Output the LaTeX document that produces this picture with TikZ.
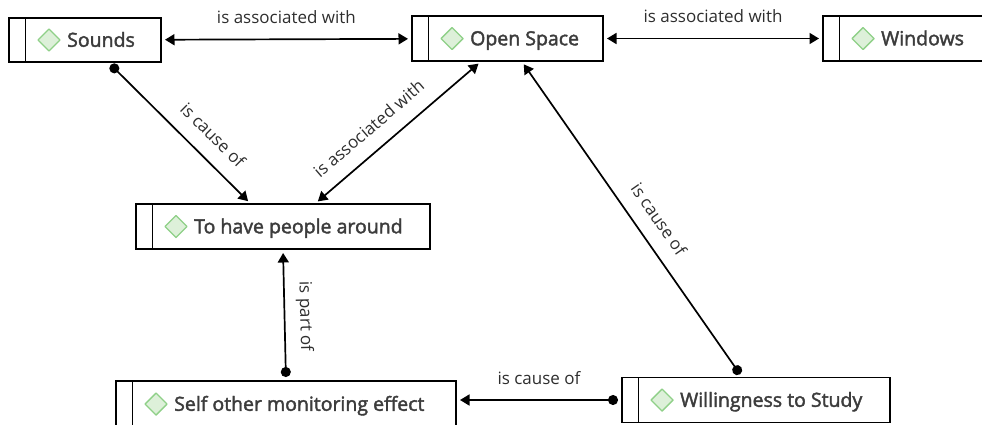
\documentclass[tikz,border=0pt]{standalone}
\usepackage{fontspec}
\setmainfont{Open Sans}
\newfontfamily\boxfontfam[FakeBold=2]{Open Sans}
\usetikzlibrary{arrows.meta,calc}
\definecolor{boxtext}{HTML}{3C3C3C}
\definecolor{lbltext}{HTML}{2E2E2E}
\definecolor{diamfill}{HTML}{DDF0D9}
\definecolor{diamdraw}{HTML}{8FD088}
\newcommand\boxfont{\boxfontfam\fontsize{19.5}{22}\selectfont}
\newcommand\lblfont{\fontsize{17}{20}\selectfont}
\newcommand\conceptbox[6]{%
  \node[cbox, minimum width=#4pt, minimum height=#5pt] (#1) at (#2,#3) {};
  \draw[cline] ($(#1.north west)+(16.5,0)$) -- ($(#1.south west)+(16.5,0)$);
  \draw[cdiam] ($(#1.west)+(29,0)$) -- ++(11,-11) -- ++(11,11) -- ++(-11,11) -- cycle;
  \node[ctext] (#1-text) at ($(#1.west)+(58,6.8)$) {#6};
}
\tikzset{
  cbox/.style={rectangle, draw=black, line width=1.7pt, fill=white, inner sep=0pt, outer sep=0pt},
  cline/.style={draw=black, line width=1.7pt},
  cdiam/.style={draw=diamdraw, fill=diamfill, line width=1.4pt, line join=round},
  ctext/.style={anchor=base west, inner sep=0pt, font=\boxfont, text=boxtext},
  conn/.style={draw=black, line width=1.7pt, shorten <=4pt, shorten >=4pt},
  twoway/.style={arrows={Triangle[length=9.5pt,width=11pt]-Triangle[length=9.5pt,width=11pt]}},
  dotarrow/.style={arrows={Circle[length=10pt,width=10pt]-Triangle[length=9.5pt,width=11pt]}},
  arrowdot/.style={arrows={Triangle[length=9.5pt,width=11pt]-Circle[length=10pt,width=10pt]}},
  lbl/.style={font=\lblfont, text=lbltext, inner sep=0pt, text depth=0pt, sloped, above=15pt}
}
\begin{document}
\begin{tikzpicture}[x=1pt,y=-1pt]
\useasboundingbox (0,0) rectangle (982,424);
\conceptbox{snd}{85}{40}{152}{44}{Sounds}
\conceptbox{osp}{507.5}{38.5}{191}{45}{Open Space}
\conceptbox{win}{904.5}{38.5}{163}{45}{Windows}
\conceptbox{tha}{283}{226.5}{294}{45}{To have people around}
\conceptbox{som}{286}{404}{340}{46}{Self other monitoring effect}
\conceptbox{wil}{756}{400}{268}{45}{Willingness to Study}
\coordinate (snd-b) at ($(snd.south west)!0.651!(snd.south east)$);
\coordinate (tha-t1) at ($(tha.north west)!0.391!(tha.north east)$);
\coordinate (tha-t2) at ($(tha.north west)!0.608!(tha.north east)$);
\coordinate (osp-b1) at ($(osp.south west)!0.364!(osp.south east)$);
\coordinate (osp-b2) at ($(osp.south west)!0.573!(osp.south east)$);
\coordinate (wil-t) at ($(wil.north west)!0.449!(wil.north east)$);
\coordinate (som-e) at (som.east |- wil.west);
\draw[conn, twoway] (snd) -- (osp) node[lbl, midway] {is associated with};
\draw[conn, twoway] (osp) -- (win) node[lbl, midway] {is associated with};
\draw[conn, dotarrow] (snd-b) -- (tha-t1) node[lbl, pos=0.625] {is cause of};
\draw[conn, twoway] (tha-t2) -- (osp-b1) node[lbl, pos=0.41] {is associated with};
\draw[conn, arrowdot] (osp-b2) -- (wil-t) node[lbl, pos=0.54] {is cause of};
\draw[conn, arrowdot] (tha.south) -- (som.north) node[lbl, pos=0.515] {is part of};
\draw[conn, arrowdot] (som-e) -- (wil.west) node[lbl, midway] {is cause of};
\end{tikzpicture}
\end{document}
